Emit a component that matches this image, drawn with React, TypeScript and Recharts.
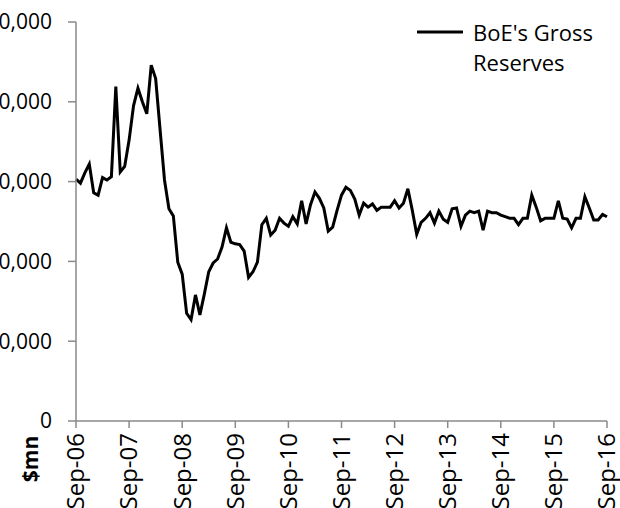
import React from "react";
import { LineChart, Line, XAxis, YAxis, Legend, Customized } from "recharts";

// Monthly BoE gross reserves, $mn, Sep-06 .. Sep-16
const reserves: number[] = [
  30300, 29800, 31100, 32200, 28600, 28300, 30500, 30200, 30600, 41900,
  31200, 31900, 35200, 39500, 41700, 40000, 38500, 44600, 42900, 36500,
  30200, 26600, 25700, 19900, 18400, 13500, 12700, 15800, 13300, 15900,
  18700, 19800, 20300, 21800, 24200, 22400, 22200, 22100, 21300, 18000,
  18700, 19900, 24600, 25400, 23300, 23900, 25400, 24800, 24400, 25600,
  24700, 27600, 24700, 27100, 28700, 27900, 26700, 23800, 24300, 26400,
  28300, 29300, 28900, 27800, 25800, 27300, 26800, 27200, 26400, 26800,
  26800, 26800, 27600, 26700, 27300, 29100, 26400, 23400, 24900, 25400,
  26100, 24800, 26300, 25300, 24900, 26600, 26700, 24400, 25800, 26300,
  26100, 26300, 23900, 26300, 26100, 26100, 25800, 25600, 25400, 25400,
  24600, 25400, 25400, 28300, 26800, 25100, 25400, 25400, 25400, 27600,
  25400, 25300, 24200, 25400, 25400, 28100, 26700, 25200, 25200, 25900,
  25600,
];

const xTickLabels: string[] = [
  "Sep-06", "Sep-07", "Sep-08", "Sep-09", "Sep-10", "Sep-11",
  "Sep-12", "Sep-13", "Sep-14", "Sep-15", "Sep-16",
];
const xTickPositions: number[] = [0, 12, 24, 36, 48, 60, 72, 84, 96, 108, 120];
const yTicks: number[] = [0, 10000, 20000, 30000, 40000, 50000];

const seriesName = "BoE's Gross Reserves";
const yUnit = "$mn";

const data = reserves.map((v, i) => ({ i, value: v }));

const FONT = "'Open Sans', 'Noto Sans', sans-serif";
const AXIS_COLOR = "#8a8a8a";

const XTick = (props: any) => {
  const { x, y, payload } = props;
  const idx = xTickPositions.indexOf(payload.value);
  const label = idx >= 0 ? xTickLabels[idx] : "";
  return (
    <text
      x={x}
      y={y}
      transform={`rotate(-90, ${x}, ${y})`}
      textAnchor="end"
      dy="0.35em"
      fill="#000"
      fontSize={24}
      fontFamily={FONT}
    >
      {label}
    </text>
  );
};

const LegendContent = () => (
  <div
    style={{
      display: "flex",
      alignItems: "flex-start",
      fontFamily: FONT,
      fontSize: 22,
      lineHeight: "30px",
      color: "#000",
    }}
  >
    <svg width={56} height={30} style={{ flex: "none" }}>
      <line x1={0} x2={46} y1={15} y2={15} stroke="#000" strokeWidth={3} />
    </svg>
    <div>
      BoE's Gross
      <br />
      Reserves
    </div>
  </div>
);

const UnitLabel = () => (
  <text
    x={61}
    y={459}
    transform="rotate(-90, 61, 459)"
    textAnchor="middle"
    dy="0.35em"
    fontWeight="bold"
    fontSize={21}
    fontFamily={FONT}
    fill="#000"
  >
    {yUnit}
  </text>
);

export default function App() {
  return (
    <div style={{ position: "absolute", left: -30, top: 0 }}>
      <LineChart
        width={650}
        height={508}
        data={data}
        margin={{ top: 22, right: 13, left: 26, bottom: 0 }}
      >
        <XAxis
          dataKey="i"
          type="number"
          domain={[0, 120]}
          ticks={xTickPositions}
          interval={0}
          height={87}
          tickSize={7}
          tickMargin={5}
          tick={<XTick />}
          axisLine={{ stroke: AXIS_COLOR, strokeWidth: 1.5 }}
          tickLine={{ stroke: AXIS_COLOR, strokeWidth: 1.5 }}
        />
        <YAxis
          type="number"
          domain={[0, 50000]}
          ticks={yTicks}
          interval={0}
          width={80}
          tickSize={8}
          tickMargin={16}
          tickFormatter={(v: number) => v.toLocaleString("en-US")}
          tick={{ fill: "#000", fontSize: 21, fontFamily: FONT }}
          axisLine={{ stroke: AXIS_COLOR, strokeWidth: 1.5 }}
          tickLine={{ stroke: AXIS_COLOR, strokeWidth: 1.5 }}
        />
        <Legend
          layout="horizontal"
          verticalAlign="middle"
          align="center"
          content={<LegendContent />}
          wrapperStyle={{ top: 17, left: 447, width: 200 }}
        />
        <Line
          type="linear"
          dataKey="value"
          name={seriesName}
          stroke="#000"
          strokeWidth={3}
          dot={false}
          isAnimationActive={false}
        />
        <Customized component={UnitLabel} />
      </LineChart>
    </div>
  );
}
